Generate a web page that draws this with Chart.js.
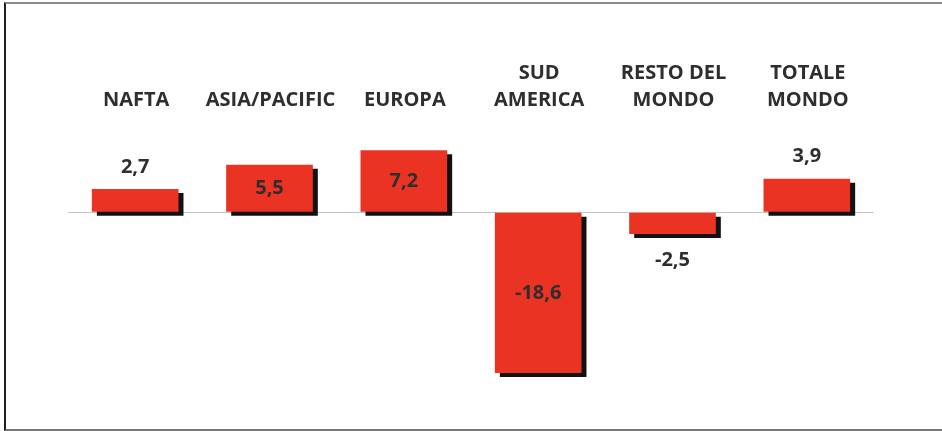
<!DOCTYPE html>
<html lang="it">
<head>
<meta charset="UTF-8" />
<title>Crescita per area</title>
<style>
  * { margin: 0; padding: 0; box-sizing: border-box; }
  body { background: #fff; width: 942px; height: 431px; overflow: hidden; }
  .frame {
    position: absolute;
    left: 4px; top: 2px;
    width: 938px; height: 429px;
    border-top: 2px solid #8a8a8a;
    border-left: 2px solid #1e1e1e;
    border-bottom: 2px solid #777;
  }
  .wrap { position: absolute; left: 0; top: 0; width: 942px; height: 431px; }
</style>
</head>
<body>
<div class="frame"></div>
<div class="wrap"><canvas id="grafico" width="942" height="431"></canvas></div>

<script src="https://cdn.jsdelivr.net/npm/chart.js"></script>
<script>
  const aree = [['NAFTA'], ['ASIA/PACIFIC'], ['EUROPA'], ['SUD', 'AMERICA'], ['RESTO DEL', 'MONDO'], ['TOTALE', 'MONDO']];
  const variazioni = [2.7, 5.5, 7.2, -18.6, -2.5, 3.9];

  const ROSSO = '#EA3323';
  const TESTO = '#2e2e2e';
  const FONT = '"Open Sans", Lato, sans-serif';

  // ombra nera spostata in basso a destra sotto ogni barra
  const ombra = {
    id: 'ombra',
    beforeDatasetDraw(chart) {
      const ctx = chart.ctx;
      ctx.save();
      ctx.shadowColor = '#111';
      ctx.shadowOffsetX = 5;
      ctx.shadowOffsetY = 4;
      ctx.shadowBlur = 0;
    },
    afterDatasetDraw(chart) {
      chart.ctx.restore();
    }
  };

  // nomi delle aree in alto e valori sulle barre
  const etichette = {
    id: 'etichette',
    afterDraw(chart) {
      const ctx = chart.ctx;
      const x = chart.scales.x;
      ctx.save();
      ctx.fillStyle = TESTO;
      ctx.textAlign = 'center';

      ctx.font = 'bold 20px ' + FONT;
      ctx.textBaseline = 'alphabetic';
      aree.forEach((righe, i) => {
        const cx = x.getPixelForValue(i) + 1;
        righe.slice().reverse().forEach((r, j) => {
          ctx.fillText(r, cx, 106 - j * 27);
        });
      });

      ctx.font = 'bold 20px ' + FONT;
      ctx.textBaseline = 'middle';
      const meta = chart.getDatasetMeta(0);
      meta.data.forEach((bar, i) => {
        const v = variazioni[i];
        const testo = v.toFixed(1).replace('.', ',');
        const alto = Math.abs(bar.base - bar.y);
        let y;
        if (alto > 40) {
          y = (bar.base + bar.y) / 2;
        } else if (v >= 0) {
          y = bar.y - 22;
        } else {
          y = bar.y + 26;
        }
        ctx.fillText(testo, bar.x, y);
      });
      ctx.restore();
    }
  };

  new Chart(document.getElementById('grafico'), {
    type: 'bar',
    data: {
      labels: aree,
      datasets: [{
        data: variazioni,
        backgroundColor: ROSSO,
        borderWidth: 0,
        categoryPercentage: 1,
        barPercentage: 0.645
      }]
    },
    options: {
      responsive: false,
      animation: false,
      layout: { padding: { left: 68, right: 68, top: 126, bottom: 46 } },
      plugins: { legend: { display: false }, tooltip: { enabled: false } },
      scales: {
        x: { display: false },
        y: {
          min: -20,
          max: 10,
          ticks: { display: false, stepSize: 5 },
          border: { display: false },
          grid: {
            drawTicks: false,
            lineWidth: 1,
            color: c => c.tick && c.tick.value === 0 ? '#c4c4c4' : 'transparent'
          }
        }
      }
    },
    plugins: [ombra, etichette]
  });
</script>
</body>
</html>
